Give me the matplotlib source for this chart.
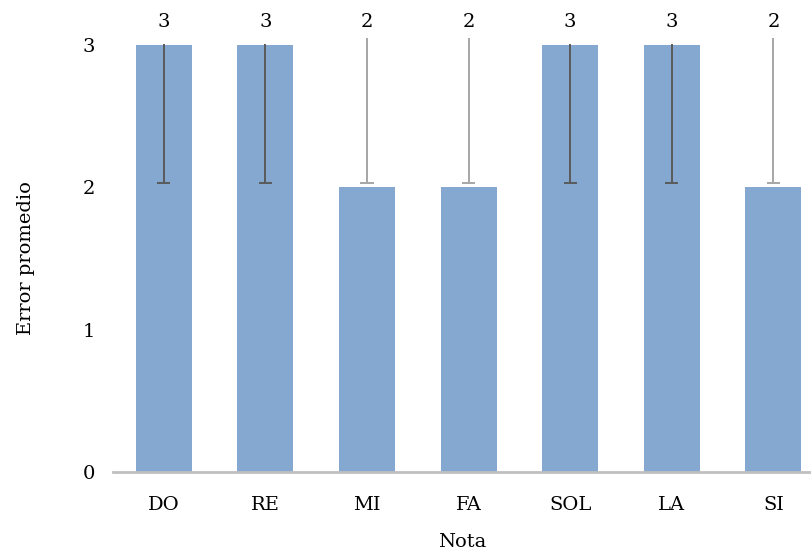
import matplotlib
matplotlib.use("Agg")
import matplotlib.pyplot as plt
import numpy as np

# data
notas = ["DO", "RE", "MI", "FA", "SOL", "LA", "SI"]
error_prom = [3, 3, 2, 2, 3, 3, 2]
err_low = [2.03, 2.03, 2.03, 2.03, 2.03, 2.03, 2.03]
err_high = [3.01, 3.01, 3.05, 3.05, 3.01, 3.01, 3.05]

plt.rcParams['font.family'] = ['DejaVu Serif']

W, H = 812, 551
fig = plt.figure(figsize=(W / 100, H / 100), dpi=100)
ymax = 3.3
unit = 142.33
ax = fig.add_axes([113 / W, (H - 472) / H, (W - 113) / W, ymax * unit / H])

x = np.arange(len(notas))
ax.bar(x, error_prom, width=0.55, color="#85A8D0", zorder=1)

# error bars: dark over tall bars, light over short bars
for xi, v, lo, hi in zip(x, error_prom, err_low, err_high):
    c = "#5a5a5a" if hi < v + 0.03 else "#a6a6a6"
    ax.vlines(xi, lo, hi, color=c, linewidth=1.4, zorder=3)
    ax.hlines(lo, xi - 0.065, xi + 0.065, color=c, linewidth=1.4, zorder=3)
    ax.text(xi, 3.16, str(v), ha="center", va="center", fontsize=14)

ax.set_xlim(-0.5, 6.38)
ax.set_ylim(0, ymax)
ax.set_yticks([0, 1, 2, 3])
ax.set_xticks(x)
ax.set_xticklabels(notas)
ax.tick_params(axis="both", length=0, labelsize=14)
ax.tick_params(axis="x", pad=17)
ax.tick_params(axis="y", pad=13)

for s in ["top", "right", "left"]:
    ax.spines[s].set_visible(False)
ax.spines["bottom"].set_color("#c0c0c0")
ax.spines["bottom"].set_linewidth(2)

ax.set_xlabel("Nota", fontsize=14, labelpad=14)
ax.set_ylabel("Error promedio", fontsize=14)
ax.yaxis.set_label_coords(-78 / (W - 113), (472 - 258) / (ymax * unit))

fig.savefig("out.png", dpi=100)
